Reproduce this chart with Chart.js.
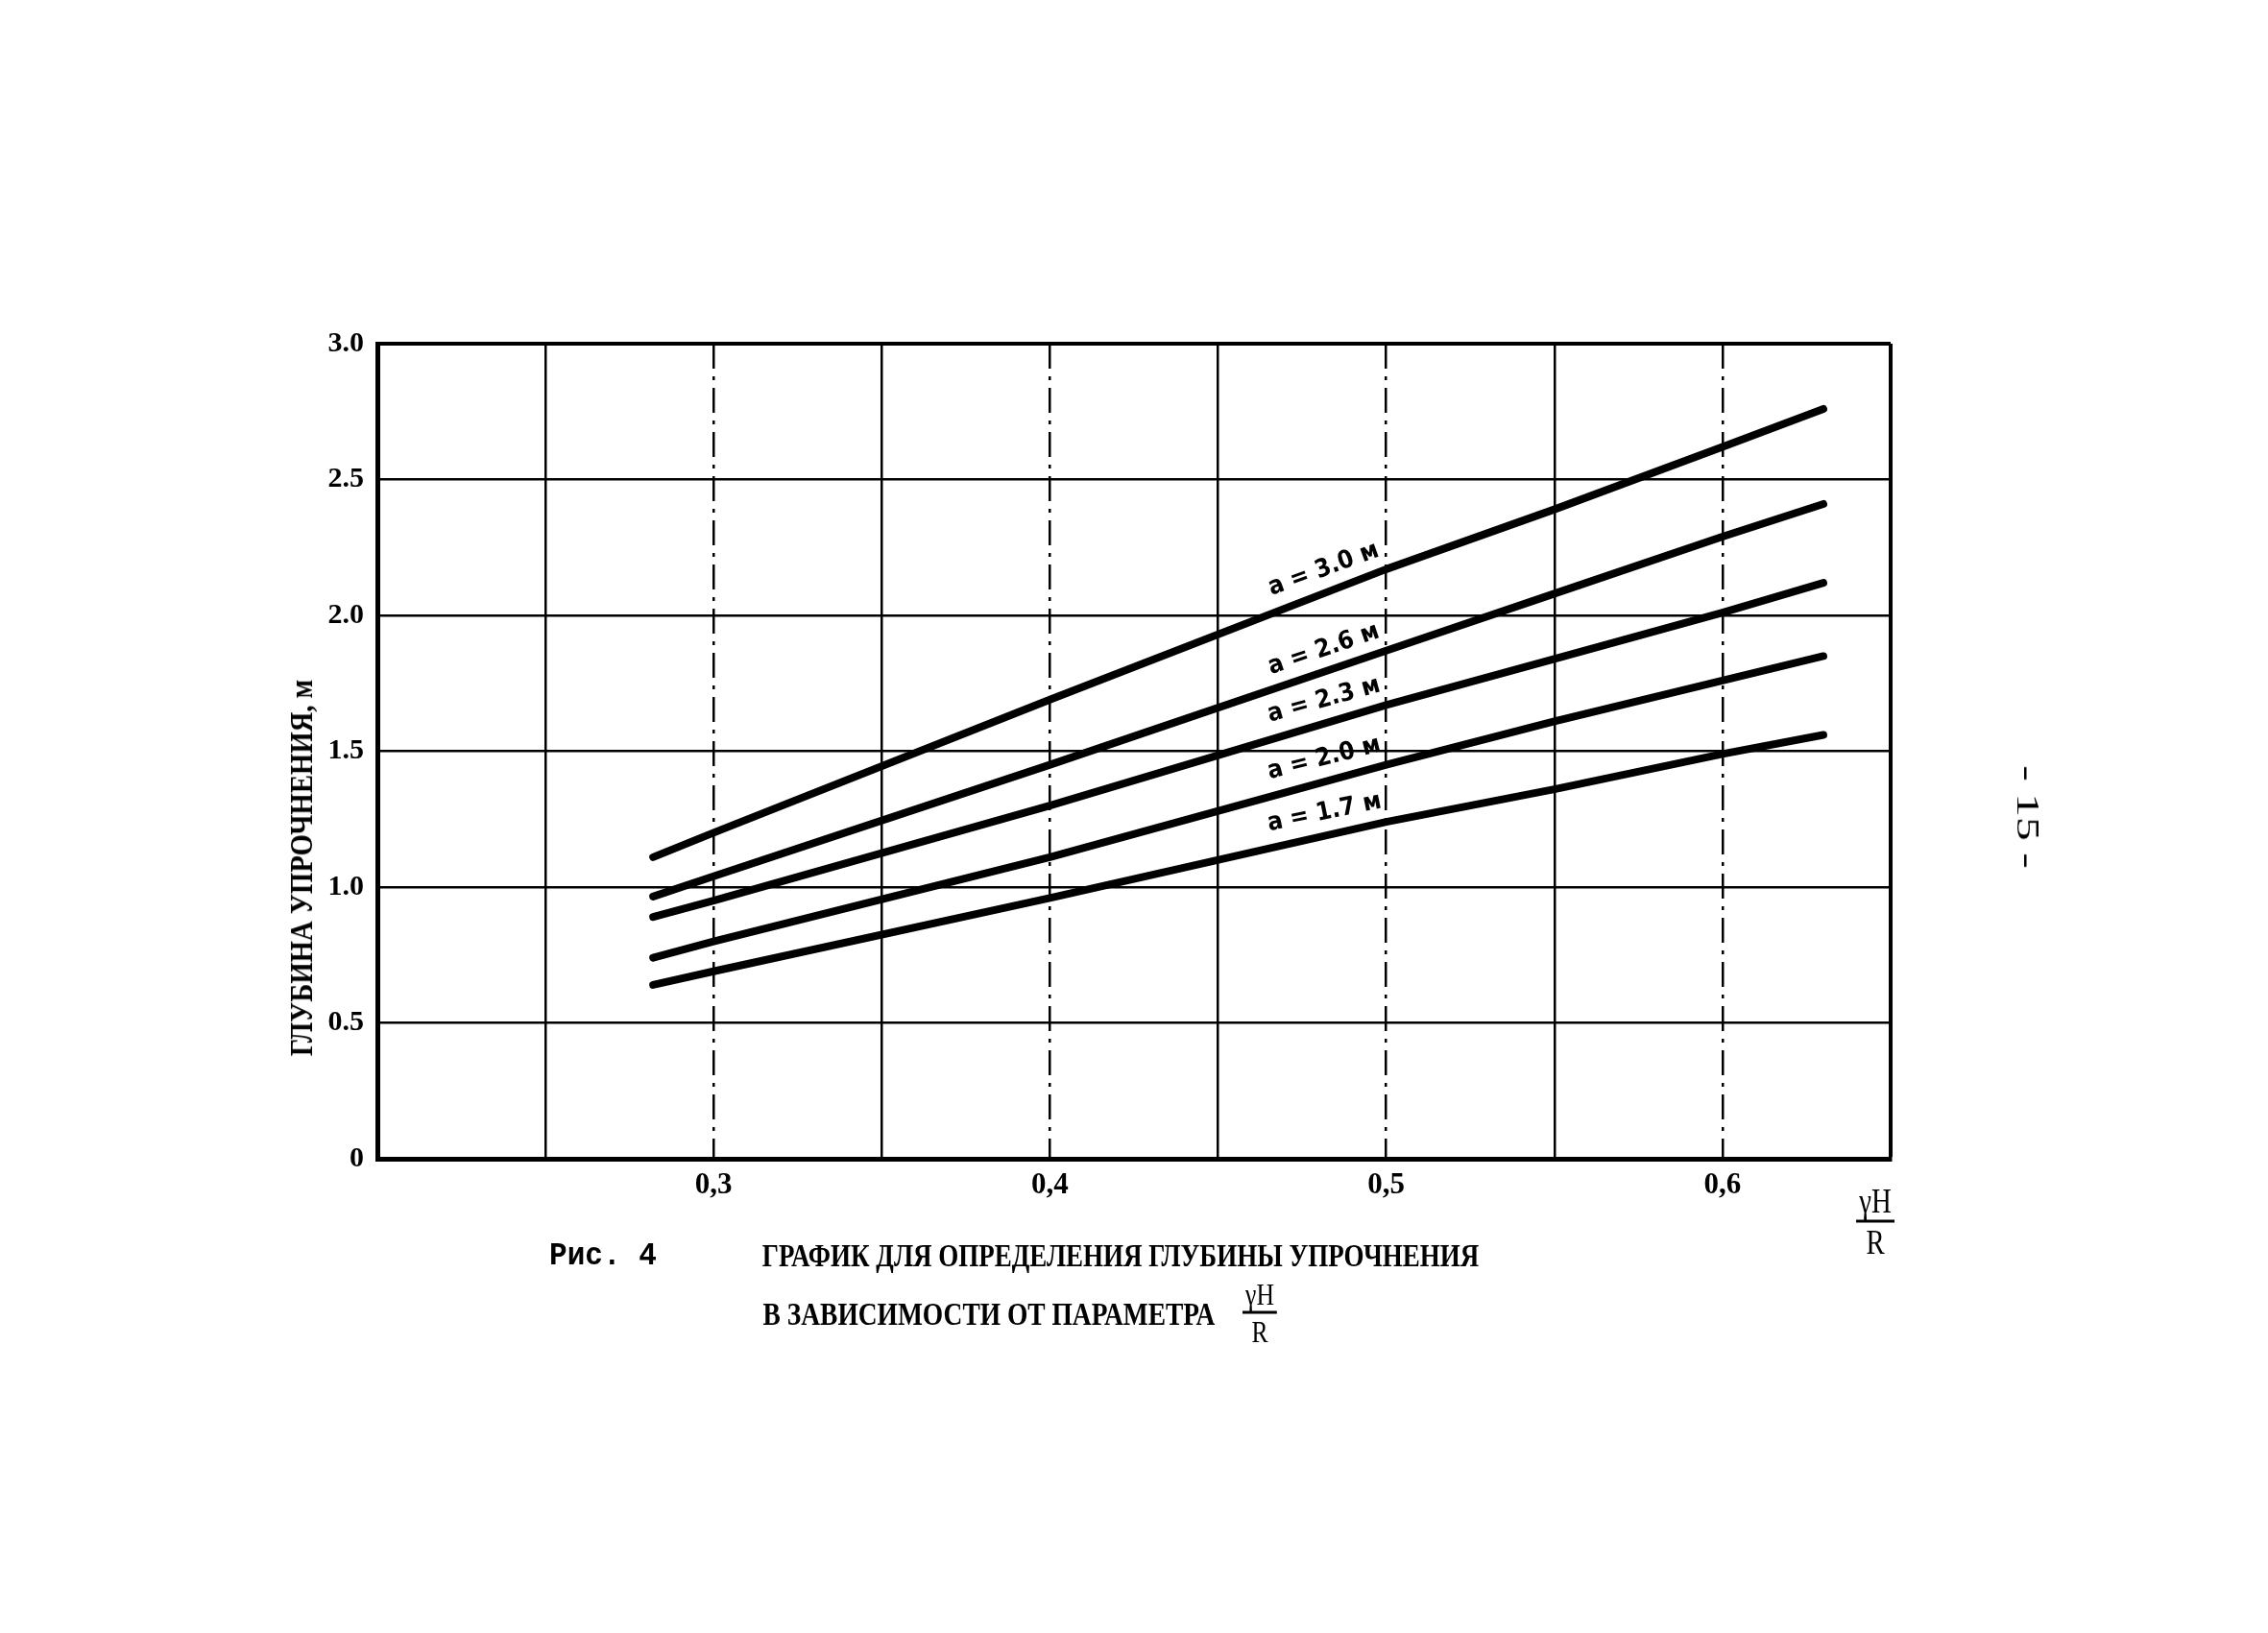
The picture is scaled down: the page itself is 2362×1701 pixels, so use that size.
<!DOCTYPE html>
<html><head><meta charset="utf-8">
<script src="https://cdn.jsdelivr.net/npm/chart.js@4.4.0/dist/chart.umd.min.js"></script>
<style>
html,body{margin:0;padding:0;background:#fff;}
#wrap{position:relative;width:2362px;height:1701px;overflow:hidden;background:#fff;}
canvas{position:absolute;left:0;top:0;}
.t{position:absolute;white-space:nowrap;color:#000;font-family:'Liberation Serif','DejaVu Serif',serif;font-weight:bold;line-height:1;transform-origin:50% 50%;}
.frac{position:absolute;display:flex;flex-direction:column;align-items:center;color:#000;font-family:'Liberation Serif','DejaVu Serif',serif;line-height:1;}
.frac .num{padding:0 4px 2px 4px;border-bottom:3px solid #000;}
.frac .den{padding-top:2px;}
</style></head><body>
<div id="wrap">
<canvas id="c" width="2362" height="1701"></canvas>
<div class="t" id="ytitle">ГЛУБИНА УПРОЧНЕНИЯ, м</div>
<div class="t" id="fig" style="font-family:'Liberation Mono','DejaVu Sans Mono',monospace">Рис. 4</div>
<div class="t" id="cap1">ГРАФИК ДЛЯ ОПРЕДЕЛЕНИЯ ГЛУБИНЫ УПРОЧНЕНИЯ</div>
<div class="t" id="cap2">В ЗАВИСИМОСТИ ОТ ПАРАМЕТРА</div>
<div class="frac" id="frac1"><div class="num">γH</div><div class="den">R</div></div>
<div class="frac" id="frac2"><div class="num">γH</div><div class="den">R</div></div>
<div class="t" id="page" style="font-weight:normal">- 15 -</div>
</div>
<script>
// ---- data ----
const xValues = [0.282, 0.30, 0.40, 0.50, 0.55, 0.60, 0.63];
const series30 = [1.11, 1.20, 1.69, 2.17, 2.39, 2.62, 2.76];
const series26 = [0.965, 1.04, 1.45, 1.87, 2.08, 2.29, 2.41];
const series23 = [0.89, 0.95, 1.30, 1.67, 1.84, 2.01, 2.12];
const series20 = [0.74, 0.80, 1.11, 1.45, 1.61, 1.76, 1.85];
const series17 = [0.64, 0.69, 0.96, 1.24, 1.36, 1.49, 1.56];
const seriesNames = ['a = 3.0 м', 'a = 2.6 м', 'a = 2.3 м', 'a = 2.0 м', 'a = 1.7 м'];
const xTickValues = [0.3, 0.4, 0.5, 0.6];
const xTickLabels = ['0,3', '0,4', '0,5', '0,6'];
const yTickLabels = ['0', '0.5', '1.0', '1.5', '2.0', '2.5', '3.0'];
const labelAtX = 0.5;

const allSeries = [series30, series26, series23, series20, series17];

const W = 2362, H = 1701;
const plotLeft = 393, plotRight = 1969, plotTop = 358, plotBottom = 1207;

function isMajorX(v){ return xTickValues.some(t => Math.abs(t - v) < 1e-6); }

const datasets = allSeries.map((s, i) => ({
  label: seriesNames[i],
  data: xValues.map((x, k) => ({x: x, y: s[k]})),
  borderColor: '#000',
  borderWidth: 8,
  borderCapStyle: 'round',
  borderJoinStyle: 'round',
  pointRadius: 0,
  tension: 0,
  fill: false
}));

const lineLabels = {
  id: 'lineLabels',
  afterDatasetsDraw(chart){
    const {ctx} = chart;
    const xs = chart.scales.x, ys = chart.scales.y;
    const k = xValues.indexOf(labelAtX);
    chart.data.datasets.forEach((ds, i) => {
      const p0 = ds.data[k], p1 = ds.data[k + 2];
      const x0 = xs.getPixelForValue(p0.x), y0 = ys.getPixelForValue(p0.y);
      const x1 = xs.getPixelForValue(p1.x), y1 = ys.getPixelForValue(p1.y);
      const ang = Math.atan2(y1 - y0, x1 - x0);
      ctx.save();
      ctx.translate(x0 - 1, y0 + (-1) * Math.tan(ang));
      ctx.rotate(ang);
      ctx.font = "600 26px 'DejaVu Sans Condensed', 'DejaVu Sans', sans-serif";
      ctx.fillStyle = '#000';
      ctx.textAlign = 'right';
      ctx.textBaseline = 'bottom';
      ctx.fillText(ds.label, 0, -9);
      ctx.restore();
    });
  }
};

new Chart(document.getElementById('c'), {
  type: 'line',
  data: { datasets },
  options: {
    responsive: false,
    animation: false,
    events: [],
    layout: { padding: { left: 0, bottom: 0, top: plotTop, right: W - plotRight } },
    plugins: { legend: { display: false }, tooltip: { enabled: false } },
    scales: {
      x: {
        type: 'linear', min: 0.2, max: 0.65,
        afterFit(s){ s.height = H - plotBottom; },
        ticks: {
          stepSize: 0.05, autoSkip: false, maxRotation: 0, minRotation: 0, padding: 9,
          color: '#000',
          font: { family: "'Liberation Serif', 'DejaVu Serif', serif", size: 31, weight: 'bold' },
          callback(v){ const j = xTickValues.findIndex(t => Math.abs(t - v) < 1e-6); return j >= 0 ? xTickLabels[j] : ''; }
        },
        grid: {
          color: '#000', drawTicks: false, tickLength: 0,
          lineWidth(c){ if (c.type !== 'tick') return 3; return Math.abs(c.tick.value - 0.65) < 1e-6 ? 4 : 2.5; }
        },
        border: {
          display: true, color: '#000', width: 5,
          dash(c){ return (c.type === 'tick' && isMajorX(c.tick.value)) ? [26, 8, 4, 8] : []; }
        }
      },
      y: {
        type: 'linear', min: 0, max: 3,
        afterFit(s){ s.width = plotLeft; },
        ticks: {
          stepSize: 0.5, padding: 14, color: '#000',
          font: { family: "'Liberation Serif', 'DejaVu Serif', serif", size: 30, weight: 'bold' },
          callback(v, i){ return yTickLabels[i]; }
        },
        grid: {
          color: '#000', drawTicks: false, tickLength: 0,
          lineWidth(c){ if (c.type !== 'tick') return 3; return Math.abs(c.tick.value - 3) < 1e-6 ? 4 : 2.5; }
        },
        border: { display: true, color: '#000', width: 5 }
      }
    }
  },
  plugins: [lineLabels]
});

// ---- text placement ----
function place(id, cx, cy, width, rot, size){
  const el = document.getElementById(id);
  el.style.fontSize = size + 'px';
  const nat = el.offsetWidth;
  const s = width ? width / nat : 1;
  el.style.left = cx + 'px';
  el.style.top = cy + 'px';
  el.style.transform = 'translate(-50%,-50%) rotate(' + rot + 'deg) scaleX(' + s + ')';
}
place('ytitle', 314, 904, 392, -90, 34);
place('fig', 628, 1308, 112, 0, 33);
place('cap1', 1167, 1308, 746, 0, 33);
place('cap2', 1030, 1369, 471, 0, 33);
place('page', 2112, 851, 108, 90, 34);

function placeFrac(id, cx, cy, size){
  const el = document.getElementById(id);
  el.style.fontSize = size + 'px';
  el.style.left = cx + 'px';
  el.style.top = cy + 'px';
  el.style.transform = 'translate(-50%,-50%) scaleX(0.8)';
}
placeFrac('frac1', 1312, 1367, 32);
placeFrac('frac2', 1953, 1272, 36);
</script>
</body></html>
